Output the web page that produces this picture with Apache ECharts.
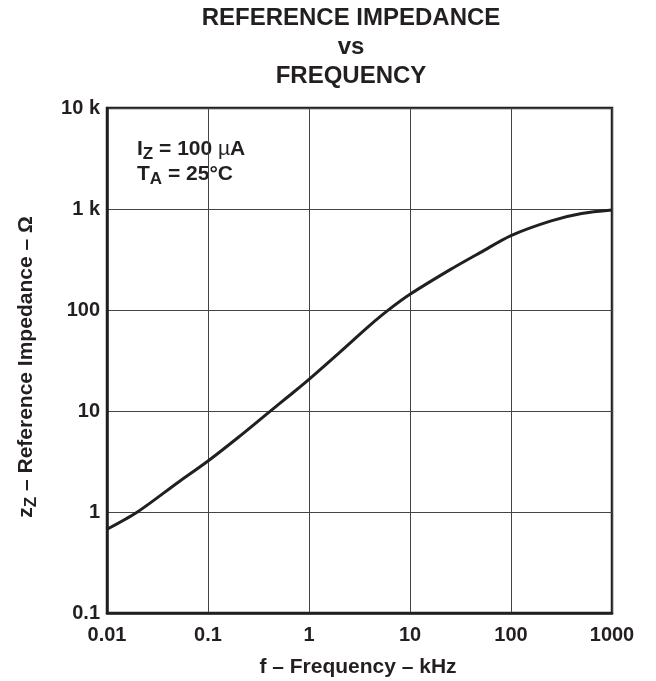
<!DOCTYPE html>
<html>
<head>
<meta charset="utf-8">
<script src="https://cdn.jsdelivr.net/npm/echarts@6/dist/echarts.min.js"></script>
<style>html,body{margin:0;padding:0;background:#fff}#c{width:656px;height:681px}</style>
</head>
<body>
<div id="c"></div>
<script>
// Data (frequency in kHz, impedance in ohms)
var frequencyKHz = [0.01, 0.02, 0.05, 0.1, 0.2, 0.4, 0.65, 1, 2, 4, 6, 10, 25, 50, 100, 250, 500, 1000];
var impedanceOhm = [0.675, 1.0, 1.95, 3.2, 5.5, 9.7, 14.4, 20.6, 37.9, 70.5, 98.6, 143, 251, 372, 546, 764, 902, 977];
var xTickLabels = ['0.01', '0.1', '1', '10', '100', '1000'];
var yTickLabels = ['0.1', '1', '10', '100', '1 k', '10 k'];
var titleLines = ['REFERENCE IMPEDANCE', 'vs', 'FREQUENCY'];

var FONT = 'Liberation Sans, Arial, Helvetica, sans-serif';
var INK = '#231f20';
var chart = echarts.init(document.getElementById('c'), null, {renderer: 'canvas'});

var seriesData = frequencyKHz.map(function (f, i) { return [f, impedanceOhm[i]]; });

var titleGraphics = titleLines.map(function (t, i) {
  return {type: 'text', position: [351, 18 + i * 29.3], style: {
    text: t, font: 'bold 24px ' + FONT, fill: INK, align: 'center', verticalAlign: 'middle'
  }};
});

var annRich = {
  m: {font: 'bold 21px ' + FONT, fill: INK, lineHeight: 26},
  u: {font: '21px ' + FONT, fill: INK, lineHeight: 26},
  s: {font: 'bold 17px ' + FONT, fill: INK, lineHeight: 26, padding: [10, 0, 0, 0]}
};

chart.setOption({
  animation: false,
  backgroundColor: '#fff',
  grid: {left: 107, right: 44, top: 108, bottom: 68, show: true, borderColor: INK, borderWidth: 2.5, containLabel: false},
  xAxis: {
    type: 'log', logBase: 10, min: 0.01, max: 1000,
    axisLine: {show: true, lineStyle: {color: INK, width: 2.5}},
    axisTick: {show: false},
    splitLine: {show: true, lineStyle: {color: '#444', width: 1}},
    axisLabel: {
      color: INK, fontFamily: FONT, fontWeight: 'bold', fontSize: 20, margin: 12,
      formatter: function (v) { var i = Math.round(Math.log10(v)) + 2; return xTickLabels[i] || ''; }
    }
  },
  yAxis: {
    type: 'log', logBase: 10, min: 0.1, max: 10000,
    axisLine: {show: true, lineStyle: {color: INK, width: 2.5}},
    axisTick: {show: false},
    splitLine: {show: true, lineStyle: {color: '#444', width: 1}},
    axisLabel: {
      color: INK, fontFamily: FONT, fontWeight: 'bold', fontSize: 20, margin: 7,
      formatter: function (v) { var i = Math.round(Math.log10(v)) + 1; return yTickLabels[i] || ''; }
    }
  },
  series: [{
    type: 'line', data: seriesData, smooth: 0.3, symbol: 'none',
    lineStyle: {color: INK, width: 3}
  }],
  graphic: titleGraphics.concat([
    {type: 'text', position: [358, 667], style: {
      text: 'f – Frequency – kHz', font: 'bold 21px ' + FONT, fill: INK,
      align: 'center', verticalAlign: 'middle'
    }},
    {type: 'text', position: [26, 367], rotation: Math.PI / 2, style: {
      text: '{m|z}{s|Z}{m| – Reference Impedance – Ω}', fill: INK,
      align: 'center', verticalAlign: 'middle',
      rich: {
        m: {font: 'bold 21px ' + FONT, fill: INK, lineHeight: 26},
        s: {font: 'bold 17px ' + FONT, fill: INK, lineHeight: 26, padding: [10, 0, 0, 0]}
      }
    }},
    {type: 'text', position: [137, 149.5], style: {
      text: '{m|I}{s|Z}{m| = 100 }{u|µ}{m|A}', fill: INK, verticalAlign: 'middle', rich: annRich
    }},
    {type: 'text', position: [137, 174.5], style: {
      text: '{m|T}{s|A}{m| = 25°C}', fill: INK, verticalAlign: 'middle', rich: annRich
    }}
  ])
});
</script>
</body>
</html>
